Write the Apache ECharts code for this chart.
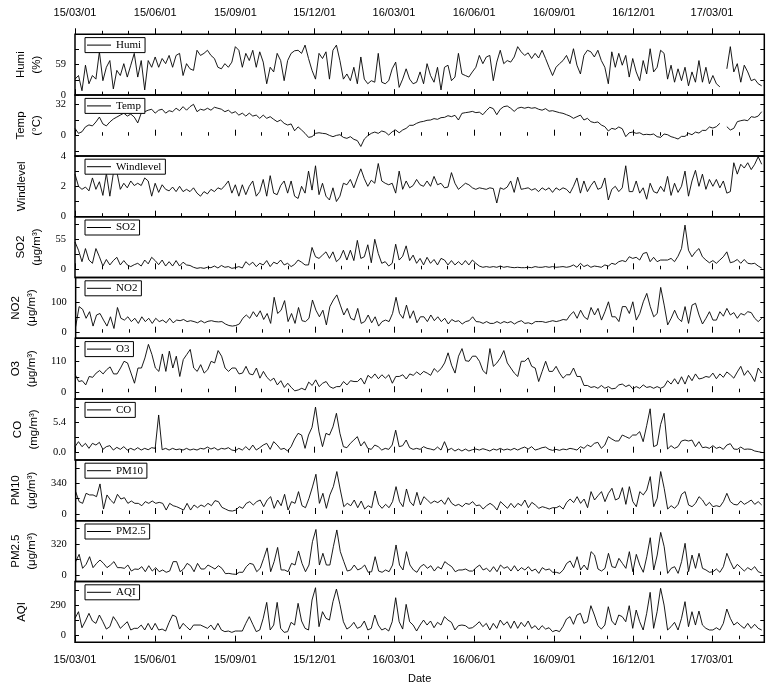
<!DOCTYPE html>
<html>
<head>
<meta charset="utf-8">
<script src="https://cdn.jsdelivr.net/npm/echarts@6/dist/echarts.min.js"></script>
<style>
html,body{margin:0;padding:0;background:#fff;}
#main{width:781px;height:693px;}
</style>
</head>
<body>
<div id="main"></div>
<script>
// readings taken every 4 days, first one on 2015-03-01
var startDate = Date.UTC(2015, 2, 1);
var stepDays = 4;

var humi = [31,38,8.5,58,22,38,31,84,28,54, 67,12,48,38,61,35,58,81,35,67, 10,67,54,74,54,71,61,77,54,77, 81,38,61,51,48,87,77,81,87,77, 71,54,51,61,54,64,94,87,54,81, 67,87,54,84,64,22,54,45,81,67, 28,67,81,86,87,
  81,97,71,48,31,81,71,84,31,87, 97,67,31,41,28,54,22,74,31,22, 28,25,81,25,22,28,51,64,15,31, 51,31,22,25,45,22,61,38,25,54, 10,54,58,28,35,81,41,38,35,45, 54,77,61,74,77,28,64,87,61,67, 64,74,94,84,77,82,71,81,72,
  87,71,54,38,54,61,67,77,61,90, 58,41,77,87,84,74,87,67,54,22, 84,54,81,58,77,35,71,45,28,67, 41,90,45,54,87,81,31,58,25,51, 28,54,18,45,25,67,25,54,22,38, 22,16,null,51,94,45,61,25,58,45, 28,31,22,18];

var temp = [7.5,2.4,4,9,11,10,14,19,12,10, 14,17,19,21,23,20,22,19,13,23, 24.5,26,27,23,26,27,23,25.5,24.5,28, 25.5,29.6,26,29.6,32,24.5,27,26,28,26, 29,28,27,24.5,26,23,24.5,21,23,20, 23,20,21,17.7,21,17.7,19.4,16.7,14.3,16, 12.6,10.9,12,5,9,
  5.8,2.4,-1.7,-1,2.4,3,2.4,2,0.3,-1, 0.3,1,-1.7,-2.7,-1,-3.7,-5,-11,-3.4,0, 2.4,3.7,2.4,4.8,3.7,0.7,4,5.8,3,5.8, 7.5,10.6,10.6,12.6,14,14.6,15.7,16,17.4,16.7, 18.4,18.7,20.4,19.4,20.8,16,22.8,23.5,24,24.8, 23.5,24,21.4,25.5,29,27.6,21.4,27,29.6,30.3, 28,24.8,28,29,28,29,28,28.6,27,
  26,27.6,25,25.5,24.5,23.5,22.8,21.4,20,17.7, 19.4,21,16,17.7,14.3,13.3,14,10.9,9.2,4.8, 7.5,6.5,8.9,7.1,-1,3,3.7,2.4,3,1, 1.4,1,1.7,-1,-1.7,1.7,1,-1,-2,-3.4, -0.7,-0.7,2.4,1,3.7,2.7,5.4,5.4,8.9,7.8, 9.2,12.6,null,9.2,5.8,7.5,14.3,15.3,16,15.3, 19.4,18.7,20,24.5];

var windlevel = [2.8,2.0,1.8,1.95,1.7,2.55,1.8,2.3,1.4,2.85, 1.35,2.85,2.95,1.8,2.2,1.9,2.35,2.05,2.2,2.05, 2.55,2.35,1.35,2.2,1.6,2.1,1.8,1.7,1.95,1.65, 2.0,1.65,1.8,1.65,1.9,1.55,1.35,1.65,1.5,1.8, 1.65,1.9,1.8,2.05,2.35,1.55,2.1,1.35,2.1,1.45, 2.0,2.35,1.35,1.65,2.45,1.35,2.7,1.55,1.45,2.05, 2.35,1.55,2.35,1.35,1.2,
  2.0,1.55,3.0,1.75,3.35,1.45,2.2,1.35,1.1,1.9, 1.0,1.35,2.2,2.1,2.45,1.9,2.55,3.15,2.5,2.0, 2.4,2.2,3.5,2.35,2.2,2.1,2.2,1.55,3.0,1.8, 2.35,1.9,2.05,2.45,2.1,2.0,2.35,2.0,2.65,2.1, 2.2,1.9,1.95,2.9,2.2,1.8,2.0,2.2,2.1,1.9, 1.8,1.9,1.85,1.8,1.9,1.85,0.9,1.9,1.8,1.95, 2.35,1.6,2.6,1.8,1.85,1.9,1.75,1.85,1.65,
  1.9,1.75,1.9,1.6,1.9,1.75,1.9,1.8,1.55,2.0, 2.55,1.55,2.35,1.65,2.05,2.35,1.8,1.9,2.55,1.1, 1.8,2.0,1.65,1.9,3.35,1.65,1.65,2.35,1.55,1.9, 1.15,2.2,1.65,1.55,2.0,1.65,2.65,1.4,2.2,1.6, 2.0,3.0,1.35,2.35,3.05,2.0,2.8,1.8,2.45,2.0, 2.45,1.9,2.35,1.55,1.65,3.55,2.8,3.45,3.2,3.55, 3.1,3.45,3.95,3.45];

var so2 = [50,35,14,38,17,11,38,23,6,18, 8,16,22,8,16,8,5,8.5,11,6, 17,10,22,16,8.5,17,6,14,6,16, 6,13,8,7,3.7,1.8,3,1.8,3.7,3, 6,2.4,7,3.7,5,1.8,3,5,2.4,14, 8,13,5,11,8,16,5,13,10,17, 8,11,5,9,17,
  13,8,8,40,23,20,26,32,20,32, 14,20,35,17,35,16,53,20,23,45, 12,55,29,11,14,6,11,46,17,24, 43,16,26,11,20,8,22,11,18,8, 20,17,8,16,8,14,8,16,8,17, 11,6,3.7,5,3.7,5,3.7,6,3.7,5, 3.7,3,3.7,3,3,3.7,3,5,3.7,
  3.7,5,3.7,5,3.7,4.3,5,3.7,5,8, 3.7,11,5,8,3.7,6,5,3.7,8,6, 11,9,14,16,14,23,20,22,17,29, 31,14,22,14,17,17,17,20,14,24, 38,81,35,23,32,38,23,17,12,16, 11,17,23,32,12,14,18,11,18,11, 10,11,6,2.4];

var no2 = [20,87,78,48,70,22,59,64,42,22, 53,14,84,48,42,53,37,48,31,53, 37,48,31,48,37,42,33,48,33,42, 40,44,37,40,37,33,40,33,38,40, 37,36,37,29,24,22,24,29,48,59, 48,70,53,73,44,64,31,118,64,75, 107,37,64,31,84,
  40,37,48,109,75,53,75,26,87,109, 126,92,59,81,48,42,81,31,37,59, 33,53,22,37,42,37,64,118,64,48, 92,48,73,33,53,53,37,59,40,53, 37,48,29,44,37,40,29,37,40,53, 37,36,31,37,31,31,37,31,37,33, 37,29,36,40,31,33,29,37,37,
  37,34,37,40,37,40,44,42,59,70, 48,75,53,44,84,59,81,42,70,103, 53,53,37,87,87,64,103,42,64,103, 131,87,53,64,151,92,26,48,75,48, 37,87,31,92,98,59,29,48,70,42, 42,70,55,81,59,67,48,64,59,70, 67,48,37,48];

var o3 = [62,38,41,26,56,53,68,77,65,80, 90,65,65,86,110,104,68,32,86,86, 122,170,134,86,74,136,74,146,86,128, 56,116,134,152,86,74,98,68,80,110, 104,148,128,86,74,86,86,65,68,92, 65,62,86,50,74,53,41,50,26,41, 17,32,17,5,8,
  14,8,36,24,44,20,32,38,20,14, 20,20,38,26,41,38,38,50,29,60, 50,65,48,62,50,62,32,56,56,62, 47,65,60,72,62,74,68,60,84,72, 84,104,140,96,68,128,155,112,110,128, 128,110,77,65,155,92,104,122,148,104, 86,68,56,110,110,122,92,86,38,
  74,110,74,74,92,68,50,62,62,86, 56,56,24,24,17,20,14,24,14,20, 12,14,26,29,20,26,12,20,14,26, 17,20,14,20,14,20,41,29,48,29, 55,29,60,41,65,47,50,56,53,68, 48,65,53,72,62,50,72,92,60,77, 60,38,86,68];

var co = [1.07,1.96,1.07,1.66,0.77,1.66,1.36,1.84,0.59,1.07, 1.25,0.47,0.95,0.59,1.07,0.47,0.77,0.47,0.89,0.47, 0.77,0.53,0.89,0.77,6.7,0.53,0.77,0.47,0.77,0.53, 0.65,0.47,0.77,0.47,0.65,0.47,0.77,0.65,1.0,0.65, 0.89,0.47,0.77,0.65,0.89,0.47,0.36,0.77,0.47,1.07, 0.47,1.36,0.47,0.89,1.36,1.66,0.59,1.96,1.36,0.59, 0.77,0.3,1.07,2.43,3.44,
  3.14,0.77,3.14,4.5,8.1,3.7,1.07,3.44,3.14,4.6, 7.0,3.44,1.07,0.89,1.66,2.25,2.85,1.19,1.96,0.77, 0.59,1.36,1.07,0.47,0.77,0.59,1.36,4.0,1.07,1.25, 2.25,0.89,0.59,0.77,0.59,1.07,0.77,0.65,0.47,1.0, 0.47,1.96,0.47,0.77,0.3,0.65,0.3,0.65,0.3,0.53, 0.65,0.47,0.71,0.53,0.3,0.65,0.47,0.77,0.47,0.65, 0.47,0.77,0.47,0.77,1.0,0.65,1.07,0.47,0.65,
  0.89,1.0,0.59,0.42,0.59,0.42,0.65,0.53,0.77,0.65, 0.47,1.07,0.77,1.36,1.07,1.66,1.84,0.77,1.36,2.85, 2.43,2.08,2.08,3.14,2.85,2.55,3.14,3.14,3.74,1.96, 4.8,7.8,1.07,1.36,5.0,7.0,0.65,1.25,0.77,1.07, 2.08,2.25,2.08,2.25,1.07,1.96,0.89,1.0,0.77,1.25, 0.77,1.0,0.59,1.36,1.6,0.65,0.59,1.0,0.59,0.65, 0.59,0.3,0.18,0.06];

var pm10 = [248,137,118,229,211,211,192,333,55,211, 155,118,218,166,181,118,144,118,118,92, 137,118,144,118,129,118,44,118,92,81, 63,44,118,44,100,70,100,81,118,92, 148,137,74,55,37,33,44,81,63,118, 137,100,137,155,81,155,192,63,155,92, 218,44,137,118,248,
  92,70,174,300,440,118,229,63,211,303, 470,266,81,118,92,155,70,144,55,92, 70,255,107,63,107,70,137,303,137,81, 277,137,92,240,100,192,155,118,144,126, 155,107,181,118,92,107,81,118,107,137, 92,100,55,92,118,92,44,137,100,63, 118,70,118,92,155,70,129,100,63,
  81,70,55,70,70,89,55,129,166,126, 192,118,166,70,248,155,203,248,137,229, 285,155,174,292,107,303,137,81,248,211, 266,414,81,174,470,285,55,92,63,107, 218,248,100,81,118,192,155,92,129,81, 92,81,137,229,137,107,100,144,107,129, 155,107,137,100];

var pm25 = [138,213,69,110,189,76,120,155,120,76, 103,138,76,76,69,103,41,62,58,86, 34,96,41,76,34,52,28,41,138,138, 34,62,120,96,34,120,62,62,103,83, 62,96,69,14,17,10,7,28,28,86, 120,110,34,69,172,280,34,138,285,52, 52,34,120,103,248,
  120,34,103,344,470,103,224,103,103,292, 465,241,138,41,52,103,52,69,103,28, 34,189,41,28,52,34,103,310,103,52, 241,103,52,28,86,110,69,96,41,86, 62,138,110,86,34,52,52,62,41,41, 76,103,52,69,34,86,34,103,69,86, 41,96,41,76,52,86,41,62,17,
  76,52,62,28,28,17,52,120,145,76, 189,52,103,52,241,206,62,41,69,224, 86,76,172,120,69,241,34,213,103,28, 189,385,52,206,440,292,17,69,86,17, 138,327,34,206,69,224,69,52,28,34, 62,28,86,224,138,62,110,76,41,76, 52,86,34,21];

var aqi = [168,232,77,142,216,142,119,200,135,64, 87,184,135,71,103,135,55,71,71,103, 55,119,55,119,55,64,45,129,200,184, 64,119,87,55,103,103,103,87,71,103, 55,119,55,39,45,32,45,45,45,119, 184,110,39,55,168,322,55,103,322,71, 32,39,129,103,313,
  142,71,55,345,464,87,232,168,151,329, 451,303,135,64,87,129,71,87,142,55, 71,200,103,55,71,45,135,367,135,64, 303,135,103,45,103,151,103,142,77,129, 103,184,151,129,55,97,103,97,71,77, 103,135,87,119,55,119,71,151,103,135, 71,142,71,129,87,142,71,97,55,
  97,64,77,39,52,39,90,161,184,110, 200,216,119,135,290,200,97,64,103,280, 142,103,200,184,135,290,71,248,135,55, 216,419,71,232,458,296,55,87,129,55, 168,329,87,232,103,238,103,71,55,55, 77,55,119,258,168,103,129,97,71,119, 71,110,71,55];

var names = ['Humi', 'Temp', 'Windlevel', 'SO2', 'NO2', 'O3', 'CO', 'PM10', 'PM2.5', 'AQI'];
var values = [humi, temp, windlevel, so2, no2, o3, co, pm10, pm25, aqi];
var yTitles = ['Humi\n(%)', 'Temp\n(°C)', 'Windlevel', 'SO2\n(μg/m³)', 'NO2\n(μg/m³)', 'O3\n(μg/m³)',
  'CO\n(mg/m³)', 'PM10\n(μg/m³)', 'PM2.5\n(μg/m³)', 'AQI'];
var yRanges = [[0, 118], [-20.6, 41.4], [0, 4], [-15, 96.4], [-18.7, 184], [-24.4, 191.6],
  [-1.28, 9.52], [-74, 599], [-67, 560.5], [-64, 524]];
var yTickValues = [[0, 29.5, 59, 88.5, 118], [-16, 0, 16, 32], [0, 1, 2, 3, 4], [0, 27.5, 55, 82.5],
  [0, 50, 100, 150], [0, 55, 110, 165], [0, 2.7, 5.4, 8.1], [0, 170, 340, 510], [0, 160, 320, 480], [0, 145, 290, 435]];
var yLabelValues = [[0, 59], [0, 32], [0, 2, 4], [0, 55], [0, 100], [0, 110], [0, 5.4], [0, 340], [0, 320], [0, 290]];

var majorDates = ['2015-03-01', '2015-06-01', '2015-09-01', '2015-12-01', '2016-03-01', '2016-06-01',
  '2016-09-01', '2016-12-01', '2017-03-01'];
var minorDates = ['2015-04-01', '2015-05-01', '2015-07-01', '2015-08-01', '2015-10-01', '2015-11-01',
  '2016-01-01', '2016-02-01', '2016-04-01', '2016-05-01', '2016-07-01', '2016-08-01', '2016-10-01',
  '2016-11-01', '2017-01-01', '2017-02-01', '2017-04-01'];

function ts(s) {
  var p = s.split('-');
  return Date.UTC(+p[0], +p[1] - 1, +p[2]);
}
function fmtDate(v) {
  var d = new Date(v);
  return String(d.getUTCFullYear()).slice(2) + '/' + ('0' + (d.getUTCMonth() + 1)).slice(-2) + '/' + ('0' + d.getUTCDate()).slice(-2);
}

var majors = majorDates.map(ts);
var minors = minorDates.map(ts);
var xMin = ts('2015-03-01');
var xMax = ts('2017-04-30');

var top0 = 34.3, ph = 60.8, gLeft = 75, gWidth = 689.3;
var sansFont = 'Liberation Sans';
var serifFont = 'Liberation Serif';

var grids = [], xAxes = [], yAxes = [], legends = [], series = [];

function xAx(i, pos, inside, len, ticks, withLabels) {
  return {
    gridIndex: i, type: 'value', min: xMin, max: xMax, position: pos,
    axisLine: {show: false}, splitLine: {show: false},
    axisTick: {show: true, inside: inside, length: len, customValues: ticks, lineStyle: {color: '#000', width: 1}},
    axisLabel: {show: withLabels, customValues: ticks, formatter: fmtDate, color: '#000',
      fontFamily: sansFont, fontSize: 11, margin: pos == 'top' ? 16 : 12}
  };
}

for (var i = 0; i < names.length; i++) {
  var last = i == names.length - 1;
  grids.push({left: gLeft, top: top0 + i * ph, width: gWidth, height: ph, show: true,
    borderColor: '#000', borderWidth: 1.5, backgroundColor: 'transparent'});

  var xi = xAxes.length;
  var mainX = xAx(i, 'bottom', !last, 6, majors, last);
  if (last) {
    mainX.name = 'Date';
    mainX.nameLocation = 'middle';
    mainX.nameGap = 31;
    mainX.nameTextStyle = {fontFamily: sansFont, fontSize: 11, color: '#000'};
  }
  xAxes.push(mainX);
  xAxes.push(xAx(i, 'bottom', !last, 3.5, minors, false));
  if (i == 0) {
    xAxes.push(xAx(i, 'top', false, 6, majors, true));
    xAxes.push(xAx(i, 'top', false, 3.5, minors, false));
  }

  var yi = yAxes.length;
  var oneLine = yTitles[i].indexOf('\n') < 0;
  yAxes.push({
    gridIndex: i, type: 'value', position: 'left', min: yRanges[i][0], max: yRanges[i][1],
    axisLine: {show: false}, splitLine: {show: false},
    axisTick: {show: true, inside: true, length: 4, customValues: yTickValues[i], lineStyle: {color: '#000'}},
    axisLabel: {customValues: yLabelValues[i], margin: 9, color: '#000', fontFamily: serifFont, fontSize: 10.5,
      formatter: i == 6 ? function (v) { return v.toFixed(1); } : null},
    name: yTitles[i], nameLocation: 'middle', nameRotate: 90, nameGap: oneLine ? 45 : 28,
    nameTextStyle: {fontFamily: sansFont, fontSize: 11.5, color: '#000', lineHeight: 16}
  });
  yAxes.push({
    gridIndex: i, type: 'value', position: 'right', min: yRanges[i][0], max: yRanges[i][1],
    axisLine: {show: false}, splitLine: {show: false},
    axisTick: {show: true, inside: true, length: 4, customValues: yTickValues[i], lineStyle: {color: '#000'}},
    axisLabel: {show: false}
  });

  legends.push({
    data: [names[i]], left: 85, top: top0 + i * ph + 3.3, selectedMode: false,
    icon: 'rect', itemWidth: 24, itemHeight: 1, padding: [1, 4, 1, 2],
    itemStyle: {color: '#000'},
    borderColor: '#000', borderWidth: 1, backgroundColor: '#fff',
    textStyle: {fontFamily: serifFont, fontSize: 11, color: '#000', lineHeight: 13}
  });

  series.push({
    name: names[i], type: 'line', xAxisIndex: xi, yAxisIndex: yi,
    symbol: 'none', showSymbol: false, connectNulls: false,
    lineStyle: {color: '#000', width: 0.9}, itemStyle: {color: '#000'},
    data: values[i].map(function (v, k) {
      return [startDate + k * stepDays * 86400000, v == null ? '-' : v];
    })
  });
}

var myChart = echarts.init(document.getElementById('main'));
myChart.setOption({
  animation: false,
  backgroundColor: '#fff',
  grid: grids,
  xAxis: xAxes,
  yAxis: yAxes,
  legend: legends,
  series: series
});
</script>
</body>
</html>
